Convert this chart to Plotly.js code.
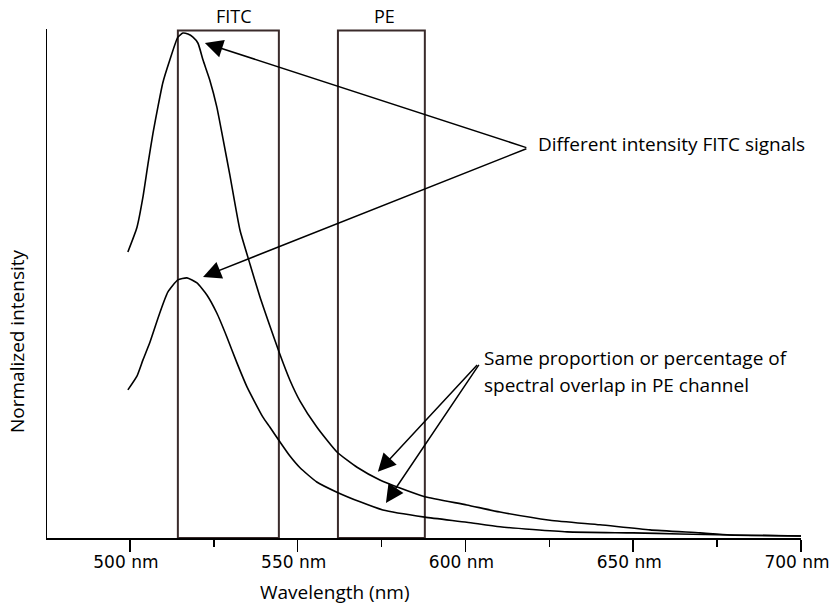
<!DOCTYPE html>
<html>
<head>
<meta charset="utf-8">
<script src="https://cdn.plot.ly/plotly-3.0.1.min.js"></script>
<style>
  html, body { margin: 0; padding: 0; background: #ffffff; }
  #chart { width: 834px; height: 610px; }
</style>
</head>
<body>
<div id="chart"></div>
<script>
// Wavelength (nm) and normalized intensity of the bright FITC signal
var brightWavelength = [499.4, 502.1, 503.9, 505.4, 506.9, 508.3, 509.8, 511.9, 514.3, 515.8, 517.3, 518.8, 520.3, 521.8, 523.8, 525.9, 527.7, 529.8, 532.8, 535.8, 538.7, 541.7, 544.7, 547.7, 550.7, 555.7, 561.7, 567.7, 574.5, 580.5, 587.9, 600.4, 610.3, 625.2, 640.1, 655.0, 669.9, 678.8, 700.0];
var brightIntensity  = [0.562, 0.610, 0.670, 0.735, 0.796, 0.845, 0.894, 0.939, 0.984, 0.992, 0.990, 0.984, 0.972, 0.939, 0.900, 0.847, 0.786, 0.713, 0.605, 0.538, 0.475, 0.417, 0.361, 0.310, 0.269, 0.218, 0.169, 0.139, 0.114, 0.098, 0.081, 0.065, 0.051, 0.035, 0.026, 0.016, 0.010, 0.006, 0.004];

// Wavelength (nm) and normalized intensity of the dim FITC signal
var dimWavelength = [499.4, 502.1, 503.9, 506.0, 508.9, 511.3, 514.3, 517.0, 520.0, 523.0, 525.9, 528.9, 531.9, 534.9, 539.6, 541.7, 544.7, 547.7, 550.7, 555.7, 561.7, 568.6, 575.4, 587.9, 600.4, 610.3, 630.3, 649.9, 663.9, 678.8, 700.0];
var dimIntensity  = [0.291, 0.318, 0.350, 0.385, 0.442, 0.483, 0.507, 0.511, 0.501, 0.477, 0.442, 0.395, 0.344, 0.297, 0.238, 0.218, 0.189, 0.161, 0.138, 0.110, 0.090, 0.071, 0.055, 0.041, 0.031, 0.022, 0.012, 0.010, 0.008, 0.006, 0.004];

// Detector channel bands (nm)
var fitcBand = [514.3, 544.4];
var peBand = [562.0, 587.9];
var bandTop = 0.997;

// Axis ticks
var majorTicks = [500, 550, 600, 650, 700];
var majorTickText = ['500 nm', '550 nm', '600 nm', '650 nm', '700 nm'];
var minorTicks = [525, 575, 625, 675];

var curveLine = { color: '#000000', width: 1.6, shape: 'spline', smoothing: 0.5 };

var traces = [
  { x: brightWavelength, y: brightIntensity, type: 'scatter', mode: 'lines', line: curveLine, hoverinfo: 'skip', showlegend: false },
  { x: dimWavelength, y: dimIntensity, type: 'scatter', mode: 'lines', line: curveLine, hoverinfo: 'skip', showlegend: false }
];

var bandLine = { color: '#3a2b2b', width: 2 };
var shapes = [
  { type: 'rect', xref: 'x', yref: 'y', x0: fitcBand[0], x1: fitcBand[1], y0: 0, y1: bandTop, line: bandLine, fillcolor: 'rgba(0,0,0,0)', layer: 'below' },
  { type: 'rect', xref: 'x', yref: 'y', x0: peBand[0], x1: peBand[1], y0: 0, y1: bandTop, line: bandLine, fillcolor: 'rgba(0,0,0,0)', layer: 'below' }
];

var textFont = { family: 'Open Sans, Noto Sans, sans-serif', size: 19, color: '#000000' };
var labelFont = { family: 'Open Sans, Noto Sans, sans-serif', size: 18, color: '#000000' };

function arrow(x, y, ax, ay) {
  return { x: x, y: y, ax: ax, ay: ay, xref: 'x', yref: 'y', axref: 'x', ayref: 'y',
    text: '', showarrow: true, arrowhead: 2, arrowsize: 2.4, arrowwidth: 1.5, arrowcolor: '#000000', standoff: 0, startstandoff: 0 };
}

var annotations = [
  arrow(522.35, 0.9725, 618.6, 0.766),
  arrow(521.8, 0.513, 618.6, 0.766),
  arrow(573.9, 0.130, 603.9, 0.343),
  arrow(576.3, 0.069, 604.3, 0.343),
  { x: 621.0, y: 0.774, xref: 'x', yref: 'y', text: 'Different intensity FITC signals', showarrow: false, xanchor: 'left', yanchor: 'middle', font: textFont },
  { x: 605.0, y: 0.354, xref: 'x', yref: 'y', text: 'Same proportion or percentage of', showarrow: false, xanchor: 'left', yanchor: 'middle', font: textFont },
  { x: 605.0, y: 0.300, xref: 'x', yref: 'y', text: 'spectral overlap in PE channel', showarrow: false, xanchor: 'left', yanchor: 'middle', font: textFont },
  { x: 531.1, y: 1.0265, xref: 'x', yref: 'paper', text: 'FITC', showarrow: false, xanchor: 'center', yanchor: 'middle', font: labelFont },
  { x: 576.0, y: 1.0265, xref: 'x', yref: 'paper', text: 'PE', showarrow: false, xanchor: 'center', yanchor: 'middle', font: labelFont },
  { x: -0.0398, y: 0.387, xref: 'paper', yref: 'paper', text: 'Normalized intensity', textangle: -90, showarrow: false, xanchor: 'center', yanchor: 'middle', font: textFont },
  { x: 0.382, y: -0.107, xref: 'paper', yref: 'paper', text: 'Wavelength (nm)', showarrow: false, xanchor: 'center', yanchor: 'middle', font: textFont }
];

var layout = {
  width: 834, height: 610,
  margin: { l: 47, r: 33, t: 29, b: 72, pad: 0 },
  paper_bgcolor: '#ffffff', plot_bgcolor: '#ffffff',
  showlegend: false,
  xaxis: {
    range: [475.3, 700], showgrid: false, zeroline: false,
    showline: true, linecolor: '#000000', linewidth: 1.5,
    tickmode: 'array', tickvals: majorTicks, ticktext: majorTickText,
    ticks: 'outside', ticklen: 12, tickwidth: 1.5, tickcolor: '#000000',
    ticklabeloverflow: 'allow', ticklabelstandoff: -4, ticklabelshift: -4,
    tickfont: { family: 'DejaVu Sans, Liberation Sans, sans-serif', size: 17, color: '#000000' },
    minor: { tickmode: 'array', tickvals: minorTicks, ticks: 'outside', ticklen: 7, tickwidth: 1.5, tickcolor: '#000000', showgrid: false },
    fixedrange: true
  },
  yaxis: {
    range: [0, 1], showgrid: false, zeroline: false,
    showline: true, linecolor: '#000000', linewidth: 1.5,
    showticklabels: false, ticks: '', fixedrange: true
  },
  shapes: shapes,
  annotations: annotations
};

Plotly.newPlot('chart', traces, layout, { displayModeBar: false, staticPlot: true });
</script>
</body>
</html>
